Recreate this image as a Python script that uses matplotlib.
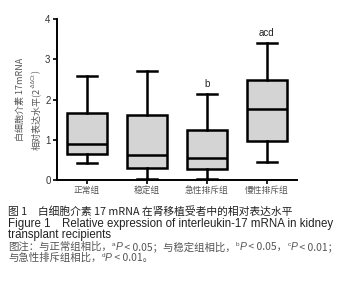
import matplotlib.pyplot as plt

CJK = ['Noto Sans CJK SC', 'DejaVu Sans']
LAT = ['Liberation Sans', 'Noto Sans CJK SC', 'DejaVu Sans']
plt.rcParams['font.family'] = CJK

# 组别与箱线图统计量
groups = ["正常组", "稳定组", "急性排斥组", "慢性排斥组"]
whislo = [0.42, 0.03, 0.03, 0.46]
q1 = [0.64, 0.31, 0.27, 0.96]
med = [0.90, 0.61, 0.55, 1.76]
q3 = [1.66, 1.62, 1.25, 2.48]
whishi = [2.58, 2.71, 2.14, 3.41]
sig = ["", "", "b", "acd"]

W, H = 338, 289
stats = []
for i in range(len(groups)):
    stats.append({"whislo": whislo[i], "q1": q1[i], "med": med[i],
                  "q3": q3[i], "whishi": whishi[i], "fliers": []})

fig = plt.figure(figsize=(W / 100, H / 100), dpi=100)
ax = fig.add_axes([0.168, 0.377, 0.71, 0.557])

lw = 1.8
pos = list(range(1, len(groups) + 1))
ax.bxp(stats, positions=pos, widths=0.67, patch_artist=True, showfliers=False,
       boxprops=dict(facecolor='#d4d4d4', edgecolor='black', linewidth=lw),
       medianprops=dict(color='black', linewidth=lw),
       whiskerprops=dict(color='black', linewidth=lw),
       capprops=dict(color='black', linewidth=lw))

for p, s, top in zip(pos, sig, whishi):
    if s:
        ax.text(p, top + 0.13, s, ha='center', va='bottom', fontsize=7,
                color='#222222', family=LAT)

ax.set_xlim(0.5, 4.5)
ax.set_ylim(0, 4)
ax.set_yticks([0, 1, 2, 3, 4])
ax.set_xticks(pos)
ax.set_xticklabels(groups, fontsize=6.3, color='#555555')
ax.tick_params(axis='y', labelsize=7, width=1.2, length=3, colors='black',
               labelcolor='#333333', pad=1.5)
ax.tick_params(axis='x', width=1.2, length=3, pad=1.5)
for lbl in ax.get_yticklabels():
    lbl.set_family(LAT)
for side in ['top', 'right']:
    ax.spines[side].set_visible(False)
for side in ['left', 'bottom']:
    ax.spines[side].set_linewidth(1.4)

renderer = fig.canvas.get_renderer()


def run_line(x, y, parts, fs, color, rotation=0):
    # x, y: 像素 (从左上角); 片段依次拼接, 上标抬高
    for txt, fam, sup, it in parts:
        size = fs * 0.62 if sup else fs
        lift = fs * 0.42 * 100 / 72 if sup else 0
        if rotation == 0:
            px, py = x, y - lift
        else:
            px, py = x - lift, y
        t = fig.text(px / W, 1 - py / H, txt, fontsize=size, family=fam, color=color,
                     style='italic' if it else 'normal', rotation=rotation,
                     rotation_mode='anchor', ha='left', va='baseline')
        bb = t.get_window_extent(renderer)
        if rotation == 0:
            x += bb.width
        else:
            y -= bb.height


# y 轴标题
fig.text(0.062, 0.656, "白细胞介素 17mRNA", rotation=90, ha='center', va='center',
         fontsize=6.5, color='#555555')
run_line(39, 150, [
    ("相对表达水平(2", CJK, False, False),
    ("-ΔΔCt", LAT, True, False),
    (")", CJK, False, False),
], 6.5, '#555555', rotation=90)

# 图题与图注
x0 = 8
dark = '#222222'
gray = '#555555'
fig.text(x0 / W, 1 - 215 / H, "图 1　白细胞介素 17 mRNA 在肾移植受者中的相对表达水平",
         fontsize=7.75, va='baseline', color=dark)
fig.text(x0 / W, 1 - 227 / H, "Figure 1　Relative expression of interleukin-17 mRNA in kidney",
         fontsize=8.3, va='baseline', color=dark, family=LAT)
fig.text(x0 / W, 1 - 238 / H, "transplant recipients",
         fontsize=8.3, va='baseline', color=dark, family=LAT)

fs_n = 7.5
run_line(x0, 250, [
    ("图注：与正常组相比，", CJK, False, False),
    ("a", LAT, True, False), ("P", LAT, False, True), (" < 0.05；与稳定组相比，", CJK, False, False),
    ("b", LAT, True, False), ("P", LAT, False, True), (" < 0.05，", CJK, False, False),
    ("c", LAT, True, False), ("P", LAT, False, True), (" < 0.01；", CJK, False, False),
], fs_n, gray)
run_line(x0, 261, [
    ("与急性排斥组相比，", CJK, False, False),
    ("d", LAT, True, False), ("P", LAT, False, True), (" < 0.01。", CJK, False, False),
], fs_n, gray)

fig.savefig("out.png", dpi=100)
